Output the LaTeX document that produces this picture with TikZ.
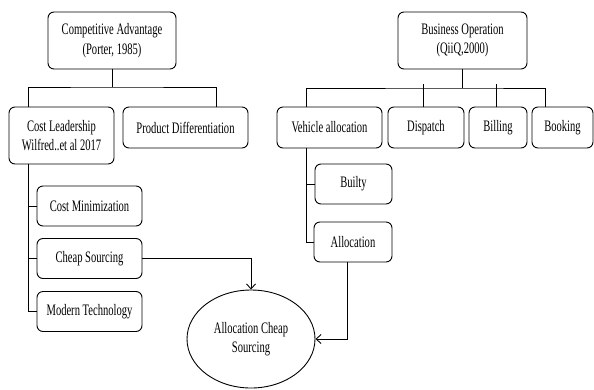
\documentclass[tikz,border=0pt]{standalone}
\usepackage{fontspec}
\setmainfont{Liberation Serif}[FakeStretch=0.66]
\usepackage{tikz}
\usetikzlibrary{calc,shapes.geometric,arrows.meta}
\tikzset{box/.style={draw,rounded corners=6pt,line width=0.9pt,align=center,inner sep=2pt,
    font=\fontsize{16}{19.5}\selectfont},
  bubble/.style={draw,ellipse,line width=0.9pt,align=center,minimum width=128pt,minimum height=98pt,
    font=\fontsize{16}{19.5}\selectfont},
  link/.style={line width=0.9pt},
  arr/.style={line width=0.9pt,-{Straight Barb[length=5pt,width=9pt]}}}
\begin{document}
\begin{tikzpicture}[x=1pt,y=1pt]
        \useasboundingbox (0,0) rectangle (594,-389);
        \node[box,minimum width=128pt,minimum height=57pt] (ca) at (112,-40.5) {Competitive Advantage\\(Porter, 1985)};
        \node[box,minimum width=129pt,minimum height=57pt] (bo) at (462.5,-40.5) {Business Operation\\(QiiQ,2000)};
        \node[box,minimum width=105pt,minimum height=57pt] (cl) at (61.5,-135.5) {Cost Leadership\\Wilfred..et al 2017};
        \node[box,minimum width=125pt,minimum height=41pt] (pd) at (185.5,-127.5) {Product Differentiation};
        \node[box,minimum width=105pt,minimum height=41pt] (va) at (329.5,-127.5) {Vehicle allocation};
        \node[box,minimum width=76pt,minimum height=41pt] (di) at (426,-127.5) {Dispatch};
        \node[box,minimum width=58pt,minimum height=41pt] (bi) at (498,-127.5) {Billing};
        \node[box,minimum width=61pt,minimum height=41pt] (bk) at (562.5,-127.5) {Booking};
        \node[box,minimum width=105pt,minimum height=40pt] (cm) at (89.5,-206) {Cost Minimization};
        \node[box,minimum width=105pt,minimum height=40pt] (cs) at (89.5,-258.5) {Cheap Sourcing};
        \node[box,minimum width=105pt,minimum height=40pt] (mt) at (89.5,-311.5) {Modern Technology};
        \node[box,minimum width=77pt,minimum height=40pt] (bu) at (353.5,-184) {Builty};
        \node[box,minimum width=78pt,minimum height=40pt] (al) at (353,-242) {Allocation};
        \node[bubble] (ac) at (251,-339) {Allocation Cheap\\Sourcing};
        \coordinate (caj) at (112,-87);
        \coordinate (boj) at (462.5,-88);
        \draw[link] (ca.south) -- (caj);
        \draw[link] ([xshift=-33.5pt]cl.north) |- (caj) -| ([xshift=30.5pt]pd.north);
        \draw[link] (bo.south) -- (boj);
        \draw[link] ([xshift=-23.5pt]va.north) |- (boj) -| ([xshift=-17.5pt]bk.north);
        \foreach \n/\s in {di/-3pt,bi/-2pt}
        \draw[link] ([xshift=\s]\n.north) -- ++(0,23);
        \coordinate (clb) at ([xshift=-33.5pt]cl.south);
        \foreach \n in {cm,cs,mt}
        \draw[link] (clb) |- (\n.west);
        \coordinate (vab) at ([xshift=-23.5pt]va.south);
        \foreach \n in {bu,al}
        \draw[link] (vab) |- (\n.west);
        \draw[arr] (cs.east) -| (ac.north);
        \draw[arr] ([xshift=-6pt]al.south) |- (ac.east);
    \end{tikzpicture}
\end{document}
